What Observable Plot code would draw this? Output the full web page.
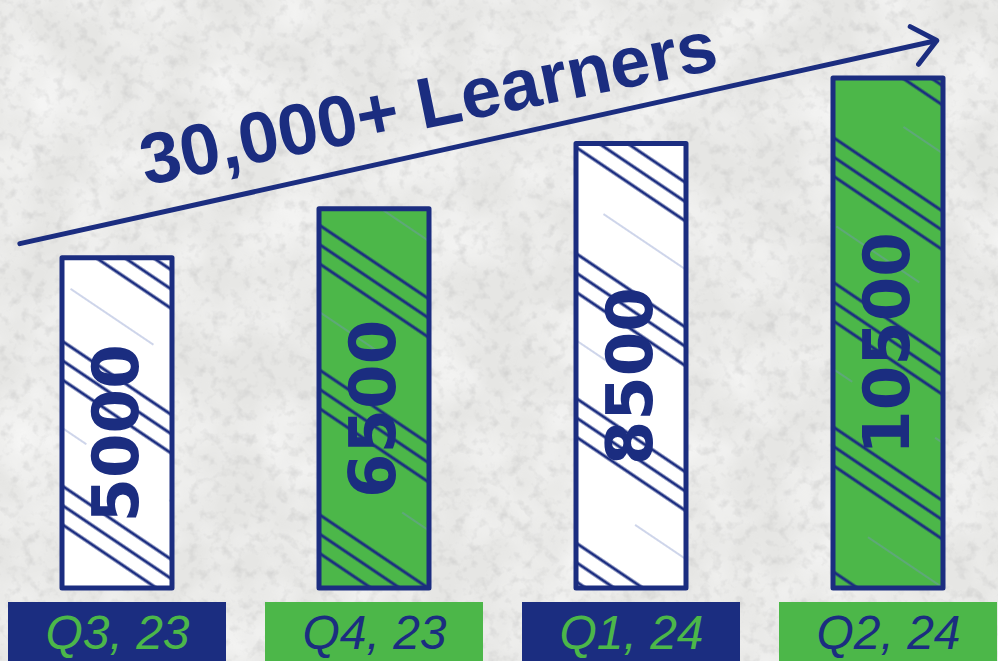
<!DOCTYPE html>
<html><head><meta charset="utf-8">
<script src="https://cdn.jsdelivr.net/npm/d3@7"></script>
<script src="https://cdn.jsdelivr.net/npm/@observablehq/plot@0.6"></script>
<style>
html,body{margin:0;padding:0;background:#ebebe9;}
#chart{width:998px;height:661px;overflow:hidden;}
</style>
</head><body><div id="chart"></div>
<script>
// ---- data ----
const quarters = ["Q3, 23", "Q4, 23", "Q1, 24", "Q2, 24"];
const learners = [5000, 6500, 8500, 10500];
const title = "30,000+ Learners";
// value axis (the bars start from a visual baseline below zero)
const baseline = -5100;
const valueTop = 10500;
// trend arrow, in value units, anchored at first and last quarter
const arrowFromValue = 6110;
const arrowToValue = 11335;

const NAVY = "#1b2d80", GREEN = "#4cb749", WHITE = "#ffffff";
const rows = quarters.map((q, i) => ({quarter: q, value: learners[i], i}));

const chart = Plot.plot({
  width: 998, height: 661,
  marginLeft: 8, marginRight: 0, marginTop: 78, marginBottom: 73,
  style: {background: "transparent", overflow: "visible"},
  x: {domain: quarters, paddingInner: 0.15, paddingOuter: 0, axis: null},
  y: {domain: [baseline, valueTop], axis: null},
  color: {type: "identity"},
  marks: [
    // category boxes below the bars
    Plot.barY(rows, {x: "quarter", y1: () => baseline, y2: () => baseline,
      insetTop: 14, insetBottom: -73, fill: d => d.i % 2 ? GREEN : NAVY}),
    Plot.text(rows, {x: "quarter", frameAnchor: "bottom", dy: 45, text: "quarter",
      fill: d => d.i % 2 ? NAVY : GREEN, fontSize: 48, fontStyle: "italic",
      fontFamily: "Liberation Sans", lineAnchor: "middle"}),
    // bars
    Plot.barY(rows, {x: "quarter", y1: () => baseline, y2: "value",
      fill: d => d.i % 2 ? GREEN : WHITE, insetLeft: 54, insetRight: 54}),
    Plot.barY(rows, {x: "quarter", y1: () => baseline, y2: "value",
      fill: "url(#hatch)", stroke: NAVY, strokeWidth: 5, strokeLinejoin: "round",
      insetLeft: 54, insetRight: 54}),
    // value labels inside the bars
    Plot.text(rows, {x: "quarter", y: d => (d.value + baseline) / 2, dy: 10,
      text: d => String(d.value), rotate: -90, fontSize: 64, fontWeight: "bold",
      fontFamily: "DejaVu Sans", fill: NAVY, lineAnchor: "middle"}),
    // trend arrow
    Plot.arrow([{from: quarters[0], to: quarters[quarters.length - 1]}], {
      x1: "from", x2: "to", y1: () => arrowFromValue, y2: () => arrowToValue,
      insetStart: -100, insetEnd: -49.5, stroke: NAVY, strokeWidth: 5,
      headLength: 9, headAngle: 80, strokeLinecap: "round"}),
    // title along the arrow
    Plot.text([title], {frameAnchor: "top-left", dx: 420, dy: 26, rotate: -11.5,
      text: d => d, textAnchor: "middle", lineAnchor: "middle", fontSize: 72,
      fontWeight: "bold", fontFamily: "Liberation Sans", fill: NAVY})
  ]
});

const svg = d3.select(chart);
const defs = svg.insert("defs", ":first-child");
const pat = defs.append("pattern").attr("id", "hatch")
  .attr("patternUnits", "userSpaceOnUse").attr("width", 200).attr("height", 120)
  .attr("patternTransform", "rotate(34)");
[8, 24, 40].forEach(y => pat.append("line").attr("x1", 0).attr("x2", 200)
  .attr("y1", y).attr("y2", y).attr("stroke", NAVY).attr("stroke-width", 2.8));
pat.append("line").attr("x1", 20).attr("x2", 120).attr("y1", 80).attr("y2", 80)
  .attr("stroke", "#7d8fc8").attr("stroke-width", 1.5).attr("opacity", 0.5);

const f = defs.append("filter").attr("id", "paper").attr("x", 0).attr("y", 0)
  .attr("width", 1).attr("height", 1);
f.append("feTurbulence").attr("type", "fractalNoise").attr("baseFrequency", 0.09)
  .attr("numOctaves", 3).attr("seed", 7);
f.append("feColorMatrix").attr("type", "matrix")
  .attr("values", "0 0 0 0 0.5  0 0 0 0 0.5  0 0 0 0 0.5  2.6 0 0 0 -1.3");
const f2 = defs.append("filter").attr("id", "paperLight").attr("x", 0).attr("y", 0)
  .attr("width", 1).attr("height", 1);
f2.append("feTurbulence").attr("type", "fractalNoise").attr("baseFrequency", 0.015)
  .attr("numOctaves", 3).attr("seed", 3);
f2.append("feColorMatrix").attr("type", "matrix")
  .attr("values", "0 0 0 0 1  0 0 0 0 1  0 0 0 0 1  1.6 0 0 0 -0.55");

svg.insert("rect", "g").attr("width", 998).attr("height", 661).attr("fill", "#e6e6e4");
svg.insert("rect", "g").attr("width", 998).attr("height", 661).attr("fill", "#fff")
  .attr("filter", "url(#paperLight)").attr("opacity", 0.7);
svg.insert("rect", "g").attr("width", 998).attr("height", 661).attr("fill", "#fff")
  .attr("filter", "url(#paper)").attr("opacity", 0.4);

document.getElementById("chart").appendChild(chart);
</script>
</body></html>
